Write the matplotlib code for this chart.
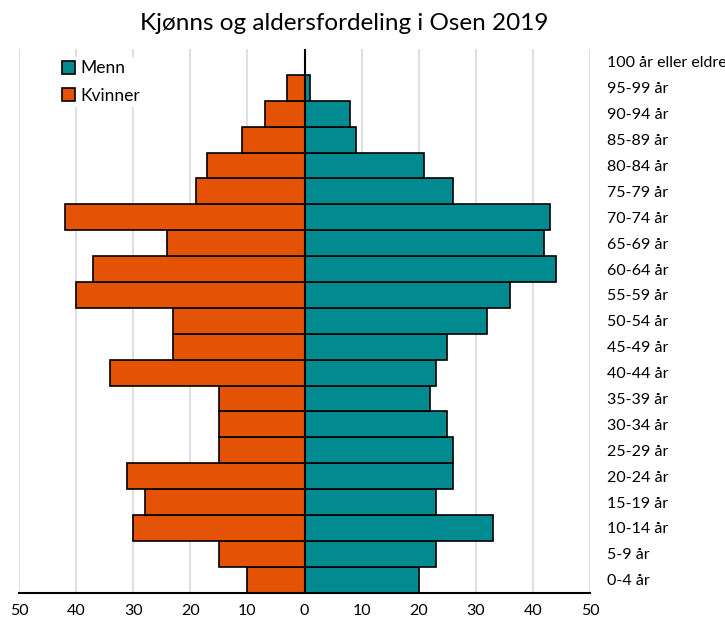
import matplotlib
matplotlib.use("Agg")
import matplotlib.pyplot as plt
import numpy as np

categories = ["0-4 år", "5-9 år", "10-14 år", "15-19 år", "20-24 år", "25-29 år",
              "30-34 år", "35-39 år", "40-44 år", "45-49 år", "50-54 år", "55-59 år",
              "60-64 år", "65-69 år", "70-74 år", "75-79 år", "80-84 år", "85-89 år",
              "90-94 år", "95-99 år", "100 år eller eldre"]
menn = [20, 23, 33, 23, 26, 26, 25, 22, 23, 25, 32, 36, 44, 42, 43, 26, 21, 9, 8, 1, 0]
kvinner = [10, 15, 30, 28, 31, 15, 15, 15, 34, 23, 23, 40, 37, 24, 42, 19, 17, 11, 7, 3, 0]
xticks = [-50, -40, -30, -20, -10, 0, 10, 20, 30, 40, 50]
title = "Kjønns og aldersfordeling i Osen 2019"

plt.rcParams['font.family'] = ['Lato', 'DejaVu Sans']

fig = plt.figure(figsize=(7.25, 6.21), dpi=100)
ax = fig.add_axes([0.0262, 0.0456, 0.7876, 0.8755])

y = np.arange(len(categories))
teal = "#028A91"
orange = "#E35205"
ax.barh(y, menn, height=1.0, color=teal, edgecolor="black", linewidth=1.2, label="Menn", zorder=3)
ax.barh(y, -np.array(kvinner), height=1.0, color=orange, edgecolor="black", linewidth=1.2, label="Kvinner", zorder=3)

ax.set_xlim(-50, 50)
ax.set_ylim(-0.5, len(categories) - 0.5)
ax.set_xticks(xticks)
ax.set_xticklabels([str(abs(v)) for v in xticks], fontsize=11.5)
for v in xticks:
    if v != 0:
        ax.axvline(v, color="#D9D9D9", linewidth=1.2, zorder=1)
ax.axvline(0, color="black", linewidth=1.5, zorder=4)

ax.set_yticks(y)
ax.set_yticklabels(categories, fontsize=11.5)
ax.yaxis.tick_right()
ax.tick_params(axis="y", length=0, pad=12)
ax.tick_params(axis="x", length=0, pad=8)

for s in ["top", "left", "right"]:
    ax.spines[s].set_visible(False)
ax.spines["bottom"].set_linewidth(1.5)
ax.spines["bottom"].set_zorder(5)

leg = ax.legend(loc="upper left", bbox_to_anchor=(0.06, 0.995), frameon=True, fontsize=12.5,
                handlelength=0.75, handleheight=0.75, handletextpad=0.3, labelspacing=0.65,
                borderpad=0.2, borderaxespad=0.3)
leg.get_frame().set_facecolor("white")
leg.get_frame().set_edgecolor("none")
leg.get_frame().set_alpha(1)
leg.set_zorder(6)

fig.text(0.475, 0.962, title, ha="center", va="center", fontsize=17.5)

fig.savefig("out.png", dpi=100)
